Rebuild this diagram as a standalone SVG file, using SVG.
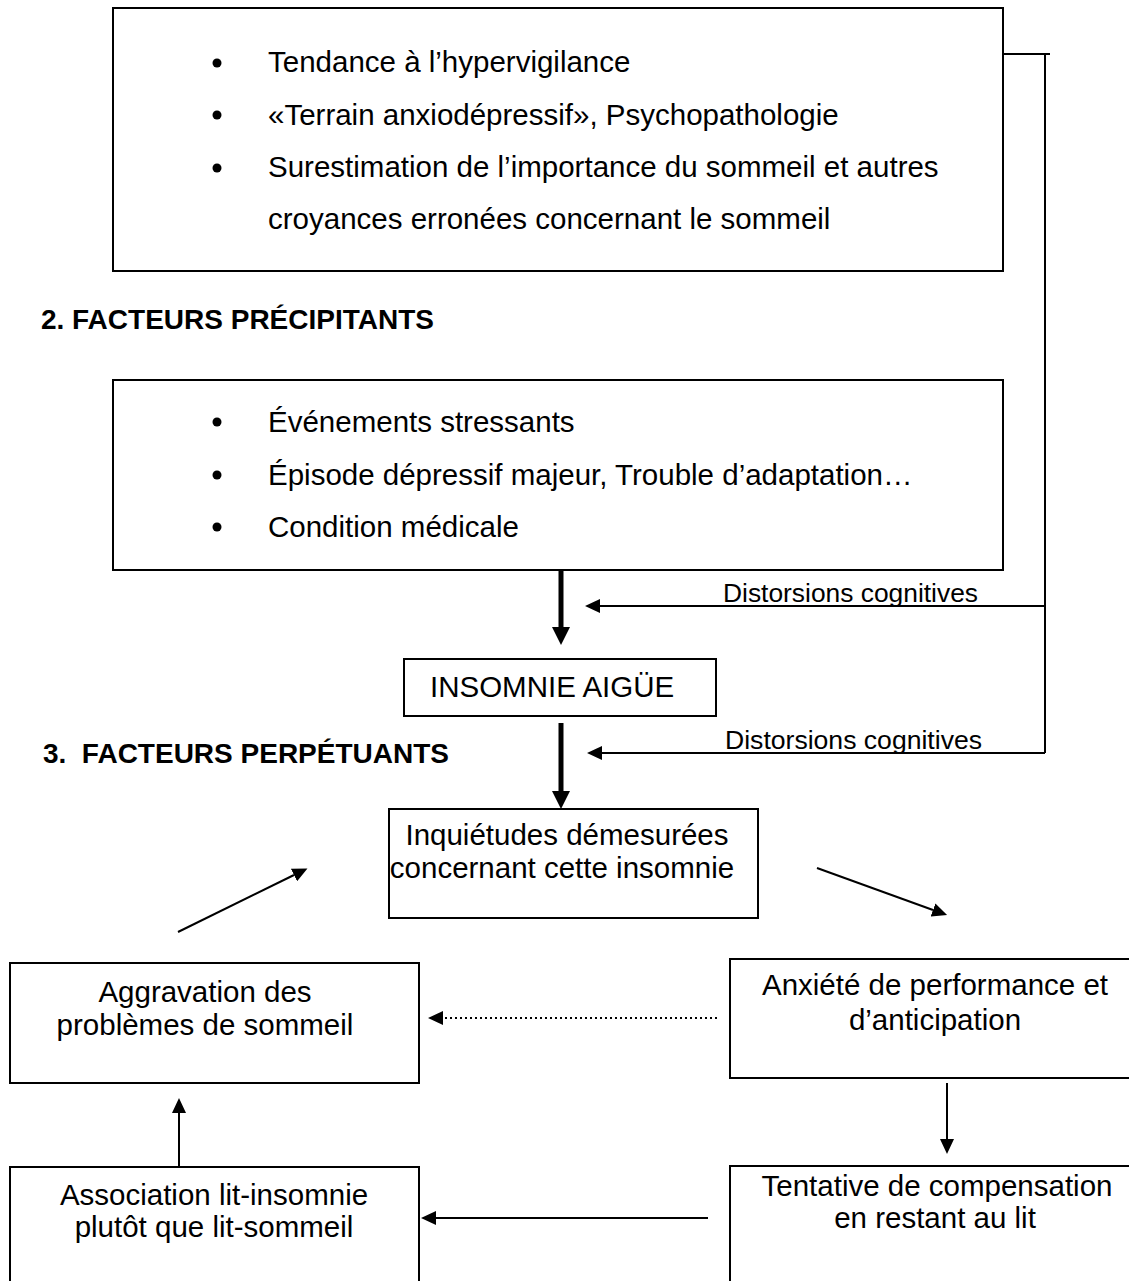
<svg xmlns="http://www.w3.org/2000/svg" width="1129" height="1281" viewBox="0 0 1129 1281">
<style>
.box{fill:#fff;stroke:#000;stroke-width:2}
.t{font-family:"Liberation Sans",Arial,sans-serif;font-size:29.5px;fill:#000}
.c{text-anchor:middle}
.h{font-family:"Liberation Sans",Arial,sans-serif;font-size:28px;font-weight:bold;fill:#000;text-anchor:end}
.d{font-family:"Liberation Sans",Arial,sans-serif;font-size:25px;fill:#000}
.ln{stroke:#000;stroke-width:2;fill:none}
.thick{stroke:#000;stroke-width:5;fill:none}
.dot{stroke:#000;stroke-width:2;stroke-dasharray:2 3;fill:none}
</style>
<defs>
<marker id="ah" markerUnits="userSpaceOnUse" markerWidth="16" markerHeight="14" refX="0" refY="7" orient="auto"><path d="M0,0 L15,7 L0,14 z" fill="#000"/></marker>
<marker id="ahb" markerUnits="userSpaceOnUse" markerWidth="19" markerHeight="18" refX="0" refY="9" orient="auto"><path d="M0,0 L18,9 L0,18 z" fill="#000"/></marker>
</defs>
<rect width="1129" height="1281" fill="#fff"/>

<g id="predisposants">
<rect class="box" x="113" y="8" width="890" height="263"/>
<circle cx="217" cy="63" r="4.5"/><text class="t" x="268" y="72">Tendance à l’hypervigilance</text>
<circle cx="217" cy="115" r="4.5"/><text class="t" x="268" y="125">«Terrain anxiodépressif», Psychopathologie</text>
<circle cx="217" cy="168" r="4.5"/><text class="t" x="268" y="177">Surestimation de l’importance du sommeil et autres</text>
<text class="t" x="268" y="229">croyances erronées concernant le sommeil</text>
</g>

<g id="titre2"><text class="h" x="434" y="329">2. FACTEURS PRÉCIPITANTS</text></g>

<g id="precipitants">
<rect class="box" x="113" y="380" width="890" height="190"/>
<circle cx="217" cy="422" r="4.5"/><text class="t" x="268" y="432">Événements stressants</text>
<circle cx="217" cy="475" r="4.5"/><text class="t" x="268" y="485">Épisode dépressif majeur, Trouble d’adaptation…</text>
<circle cx="217" cy="527" r="4.5"/><text class="t" x="268" y="537">Condition médicale</text>
</g>

<g id="insomnie-aigue">
<rect class="box" x="404" y="659" width="312" height="57"/>
<text class="t" x="430" y="697">INSOMNIE AIGÜE</text>
</g>

<g id="titre3"><text class="h" x="449" y="763" xml:space="preserve">3.  FACTEURS PERPÉTUANTS</text></g>

<g id="inquietudes">
<rect class="box" x="389" y="809" width="369" height="109"/>
<text class="t c" x="567" y="845">Inquiétudes démesurées</text>
<text class="t c" x="562" y="878">concernant cette insomnie</text>
</g>

<g id="aggravation">
<rect class="box" x="10" y="963" width="409" height="120"/>
<text class="t c" x="205" y="1002">Aggravation des</text>
<text class="t c" x="205" y="1035">problèmes de sommeil</text>
</g>

<g id="anxiete">
<rect class="box" x="730" y="959" width="410" height="119"/>
<text class="t c" x="935" y="995">Anxiété de performance et</text>
<text class="t c" x="935" y="1030">d’anticipation</text>
</g>

<g id="association">
<rect class="box" x="10" y="1167" width="409" height="140"/>
<text class="t c" x="214" y="1205">Association lit-insomnie</text>
<text class="t c" x="214" y="1237">plutôt que lit-sommeil</text>
</g>

<g id="tentative">
<rect class="box" x="730" y="1166" width="410" height="140"/>
<text class="t c" x="937" y="1196">Tentative de compensation</text>
<text class="t c" x="935" y="1228">en restant au lit</text>
</g>

<g id="connecteurs">
<polyline class="ln" points="1003,54 1050,54"/>
<line class="ln" x1="1045" y1="54" x2="1045" y2="753"/>
<line class="ln" x1="1045" y1="606" x2="600" y2="606" marker-end="url(#ah)"/>
<text class="d" x="723" y="602" textLength="255" lengthAdjust="spacingAndGlyphs">Distorsions cognitives</text>
<line class="ln" x1="1045" y1="753" x2="602" y2="753" marker-end="url(#ah)"/>
<text class="d" x="725" y="749" textLength="257" lengthAdjust="spacingAndGlyphs">Distorsions cognitives</text>
<line class="thick" x1="561" y1="570" x2="561" y2="627" marker-end="url(#ahb)"/>
<line class="thick" x1="561" y1="723" x2="561" y2="791" marker-end="url(#ahb)"/>
<line class="ln" x1="817" y1="868" x2="933" y2="910" marker-end="url(#ah)"/>
<line class="ln" x1="947" y1="1083" x2="947" y2="1139" marker-end="url(#ah)"/>
<line class="ln" x1="708" y1="1218" x2="436" y2="1218" marker-end="url(#ah)"/>
<line class="ln" x1="179" y1="1167" x2="179" y2="1113" marker-end="url(#ah)"/>
<line class="ln" x1="178" y1="932" x2="294" y2="875" marker-end="url(#ah)"/>
<line class="dot" x1="717" y1="1018" x2="443" y2="1018" marker-end="url(#ah)"/>
</g>
</svg>
